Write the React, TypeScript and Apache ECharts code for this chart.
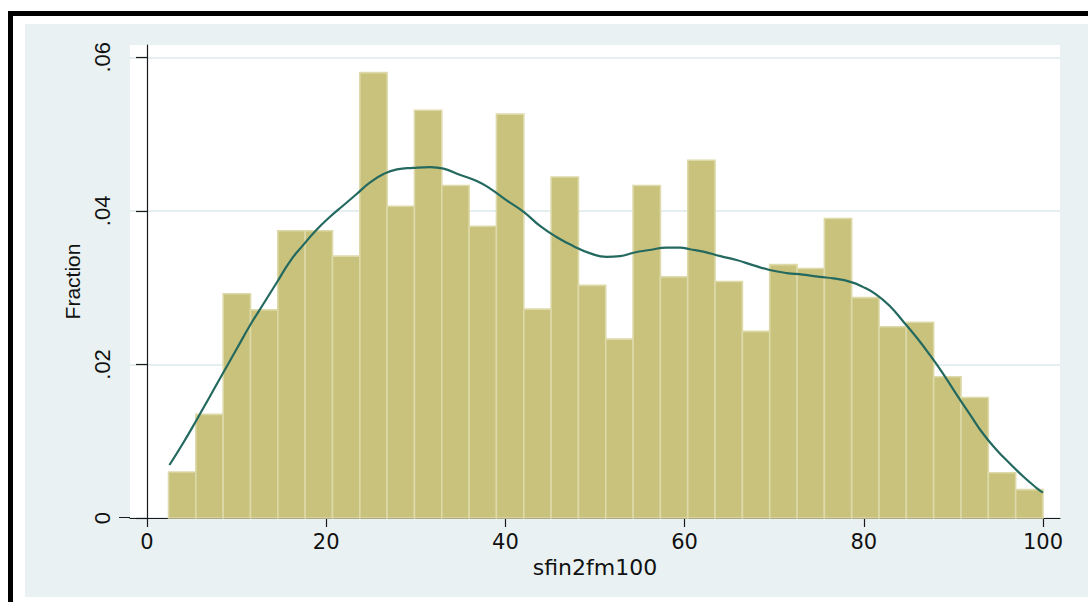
import React, { useEffect, useRef } from "react";
import * as echarts from "echarts";

const binStart = 2.4;
const binWidth = 3.05;
const binHeights = [
  0.006, 0.0135, 0.0292, 0.0271, 0.0374, 0.0374, 0.0341, 0.058,
  0.0406, 0.0531, 0.0433, 0.038, 0.0526, 0.0272, 0.0444, 0.0303,
  0.0233, 0.0433, 0.0314, 0.0466, 0.0308, 0.0243, 0.033, 0.0325,
  0.039, 0.0287, 0.0249, 0.0255, 0.0184, 0.0157, 0.0059, 0.0037,
];

const densityX = [
  2.5, 4.0, 5.5, 7.0, 8.3, 10.0, 11.5, 13.0, 14.5, 16.0,
  17.4, 18.9, 20.4, 21.9, 23.4, 24.9, 26.4, 27.9, 29.7, 31.6,
  33.1, 34.9, 36.8, 38.3, 40.1, 42.0, 43.9, 45.7, 47.6, 49.4,
  51.3, 52.8, 54.3, 56.1, 58.0, 59.5, 60.6, 62.1, 64.0, 65.8,
  67.7, 69.5, 71.4, 73.2, 75.1, 76.6, 78.5, 79.9, 81.4, 82.9,
  84.4, 85.9, 87.4, 88.9, 90.4, 91.9, 93.3, 94.8, 96.3, 97.8,
  99.3, 100.0,
];
const densityY = [
  0.0069, 0.0097, 0.0127, 0.0158, 0.0185, 0.022, 0.0251, 0.0279, 0.0307, 0.0335,
  0.0355, 0.0375, 0.0392, 0.0407, 0.0422, 0.0437, 0.0448, 0.0454, 0.0456, 0.0457,
  0.0455, 0.0447, 0.0439, 0.0429, 0.0414, 0.0399, 0.038, 0.0366, 0.0354, 0.0345,
  0.034, 0.0341, 0.03455, 0.0349, 0.0352, 0.0352, 0.035, 0.0347, 0.0341, 0.0336,
  0.0329, 0.0323, 0.0319, 0.0317, 0.0314, 0.0312, 0.03075, 0.0301, 0.0291, 0.0276,
  0.0256, 0.0235, 0.0212, 0.0187, 0.016, 0.0134, 0.011, 0.0089, 0.0071, 0.0054,
  0.0039, 0.0033,
];

const xTicks = [0, 20, 40, 60, 80, 100];
const yTicks = [0, 0.02, 0.04, 0.06];

const xTitle = "sfin2fm100";
const yTitle = "Fraction";

export default function App() {
  const ref = useRef<HTMLDivElement>(null);

  useEffect(() => {
    if (!ref.current) return;
    const chart = echarts.init(ref.current, undefined, { renderer: "svg" });
    const barData = binHeights.map((h, i) => [
      binStart + i * binWidth,
      binStart + (i + 1) * binWidth,
      h,
    ]);
    const lineData = densityX.map((x, i) => [x, densityY[i]]);
    const hFont = "DejaVu Sans";
    const vFont = "Liberation Sans";
    chart.setOption({
      animation: false,
      backgroundColor: "transparent",
      grid: {
        left: 130,
        right: 28,
        top: 45,
        bottom: 84,
        show: true,
        backgroundColor: "#ffffff",
        borderWidth: 0,
      },
      xAxis: {
        type: "value",
        min: -1.9,
        max: 101.9,
        axisLine: { show: true, onZero: false, lineStyle: { color: "#1a1a1a", width: 1.2 } },
        axisTick: { show: true, length: 9, customValues: xTicks, lineStyle: { color: "#1a1a1a", width: 1.2 } },
        axisLabel: {
          customValues: xTicks,
          margin: 13,
          fontFamily: hFont,
          fontSize: 21,
          color: "#111",
        },
        splitLine: { show: false },
        name: xTitle,
        nameLocation: "middle",
        nameGap: 31,
        nameTextStyle: { fontFamily: hFont, fontSize: 22, color: "#111" },
      },
      yAxis: {
        type: "value",
        min: 0,
        max: 0.0616,
        interval: 0.02,
        axisLine: { show: true, lineStyle: { color: "#1a1a1a", width: 1.2 } },
        axisTick: { show: true, length: 11, customValues: yTicks, lineStyle: { color: "#1a1a1a", width: 1.2 } },
        axisLabel: {
          customValues: yTicks,
          rotate: 90,
          margin: 17,
          fontFamily: vFont,
          fontSize: 22,
          color: "#111",
          formatter: (v: number) => (v === 0 ? "0" : v.toFixed(2).replace(/^0/, "")),
        },
        splitLine: { show: true, lineStyle: { color: "#E5EEF0", width: 2 } },
        name: yTitle,
        nameLocation: "middle",
        nameGap: 45,
        nameRotate: 90,
        nameTextStyle: { fontFamily: vFont, fontSize: 21, color: "#111" },
      },
      series: [
        {
          type: "custom",
          z: 2,
          encode: { x: [0, 1], y: 2 },
          data: barData,
          renderItem: (params: any, api: any) => {
            const p0 = api.coord([api.value(0), api.value(2)]);
            const p1 = api.coord([api.value(1), 0]);
            return {
              type: "rect",
              shape: { x: p0[0], y: p0[1], width: p1[0] - p0[0], height: p1[1] - p0[1] },
              style: { fill: "#C9C27D", stroke: "#DDD9A8", lineWidth: 1.6 },
            };
          },
        },
        {
          type: "line",
          z: 3,
          data: lineData,
          showSymbol: false,
          smooth: 0.5,
          lineStyle: { color: "#23695F", width: 2.2 },
        },
      ],
    });
    return () => chart.dispose();
  }, []);

  return (
    <div style={{ position: "absolute", left: 0, top: 0, width: 1088, height: 602, background: "#fff", overflow: "hidden" }}>
      <div style={{ position: "absolute", left: 8, top: 11, width: 1080, height: 5, background: "#000" }} />
      <div style={{ position: "absolute", left: 8, top: 11, width: 5, height: 591, background: "#000" }} />
      <div style={{ position: "absolute", left: 25, top: 24, width: 1063, height: 573, background: "#EAF1F3" }} />
      <div style={{ position: "absolute", left: 119, top: 517, width: 11, height: 1.2, background: "#1a1a1a" }} />
      <div ref={ref} style={{ position: "absolute", left: 0, top: 0, width: 1088, height: 602 }} />
    </div>
  );
}
